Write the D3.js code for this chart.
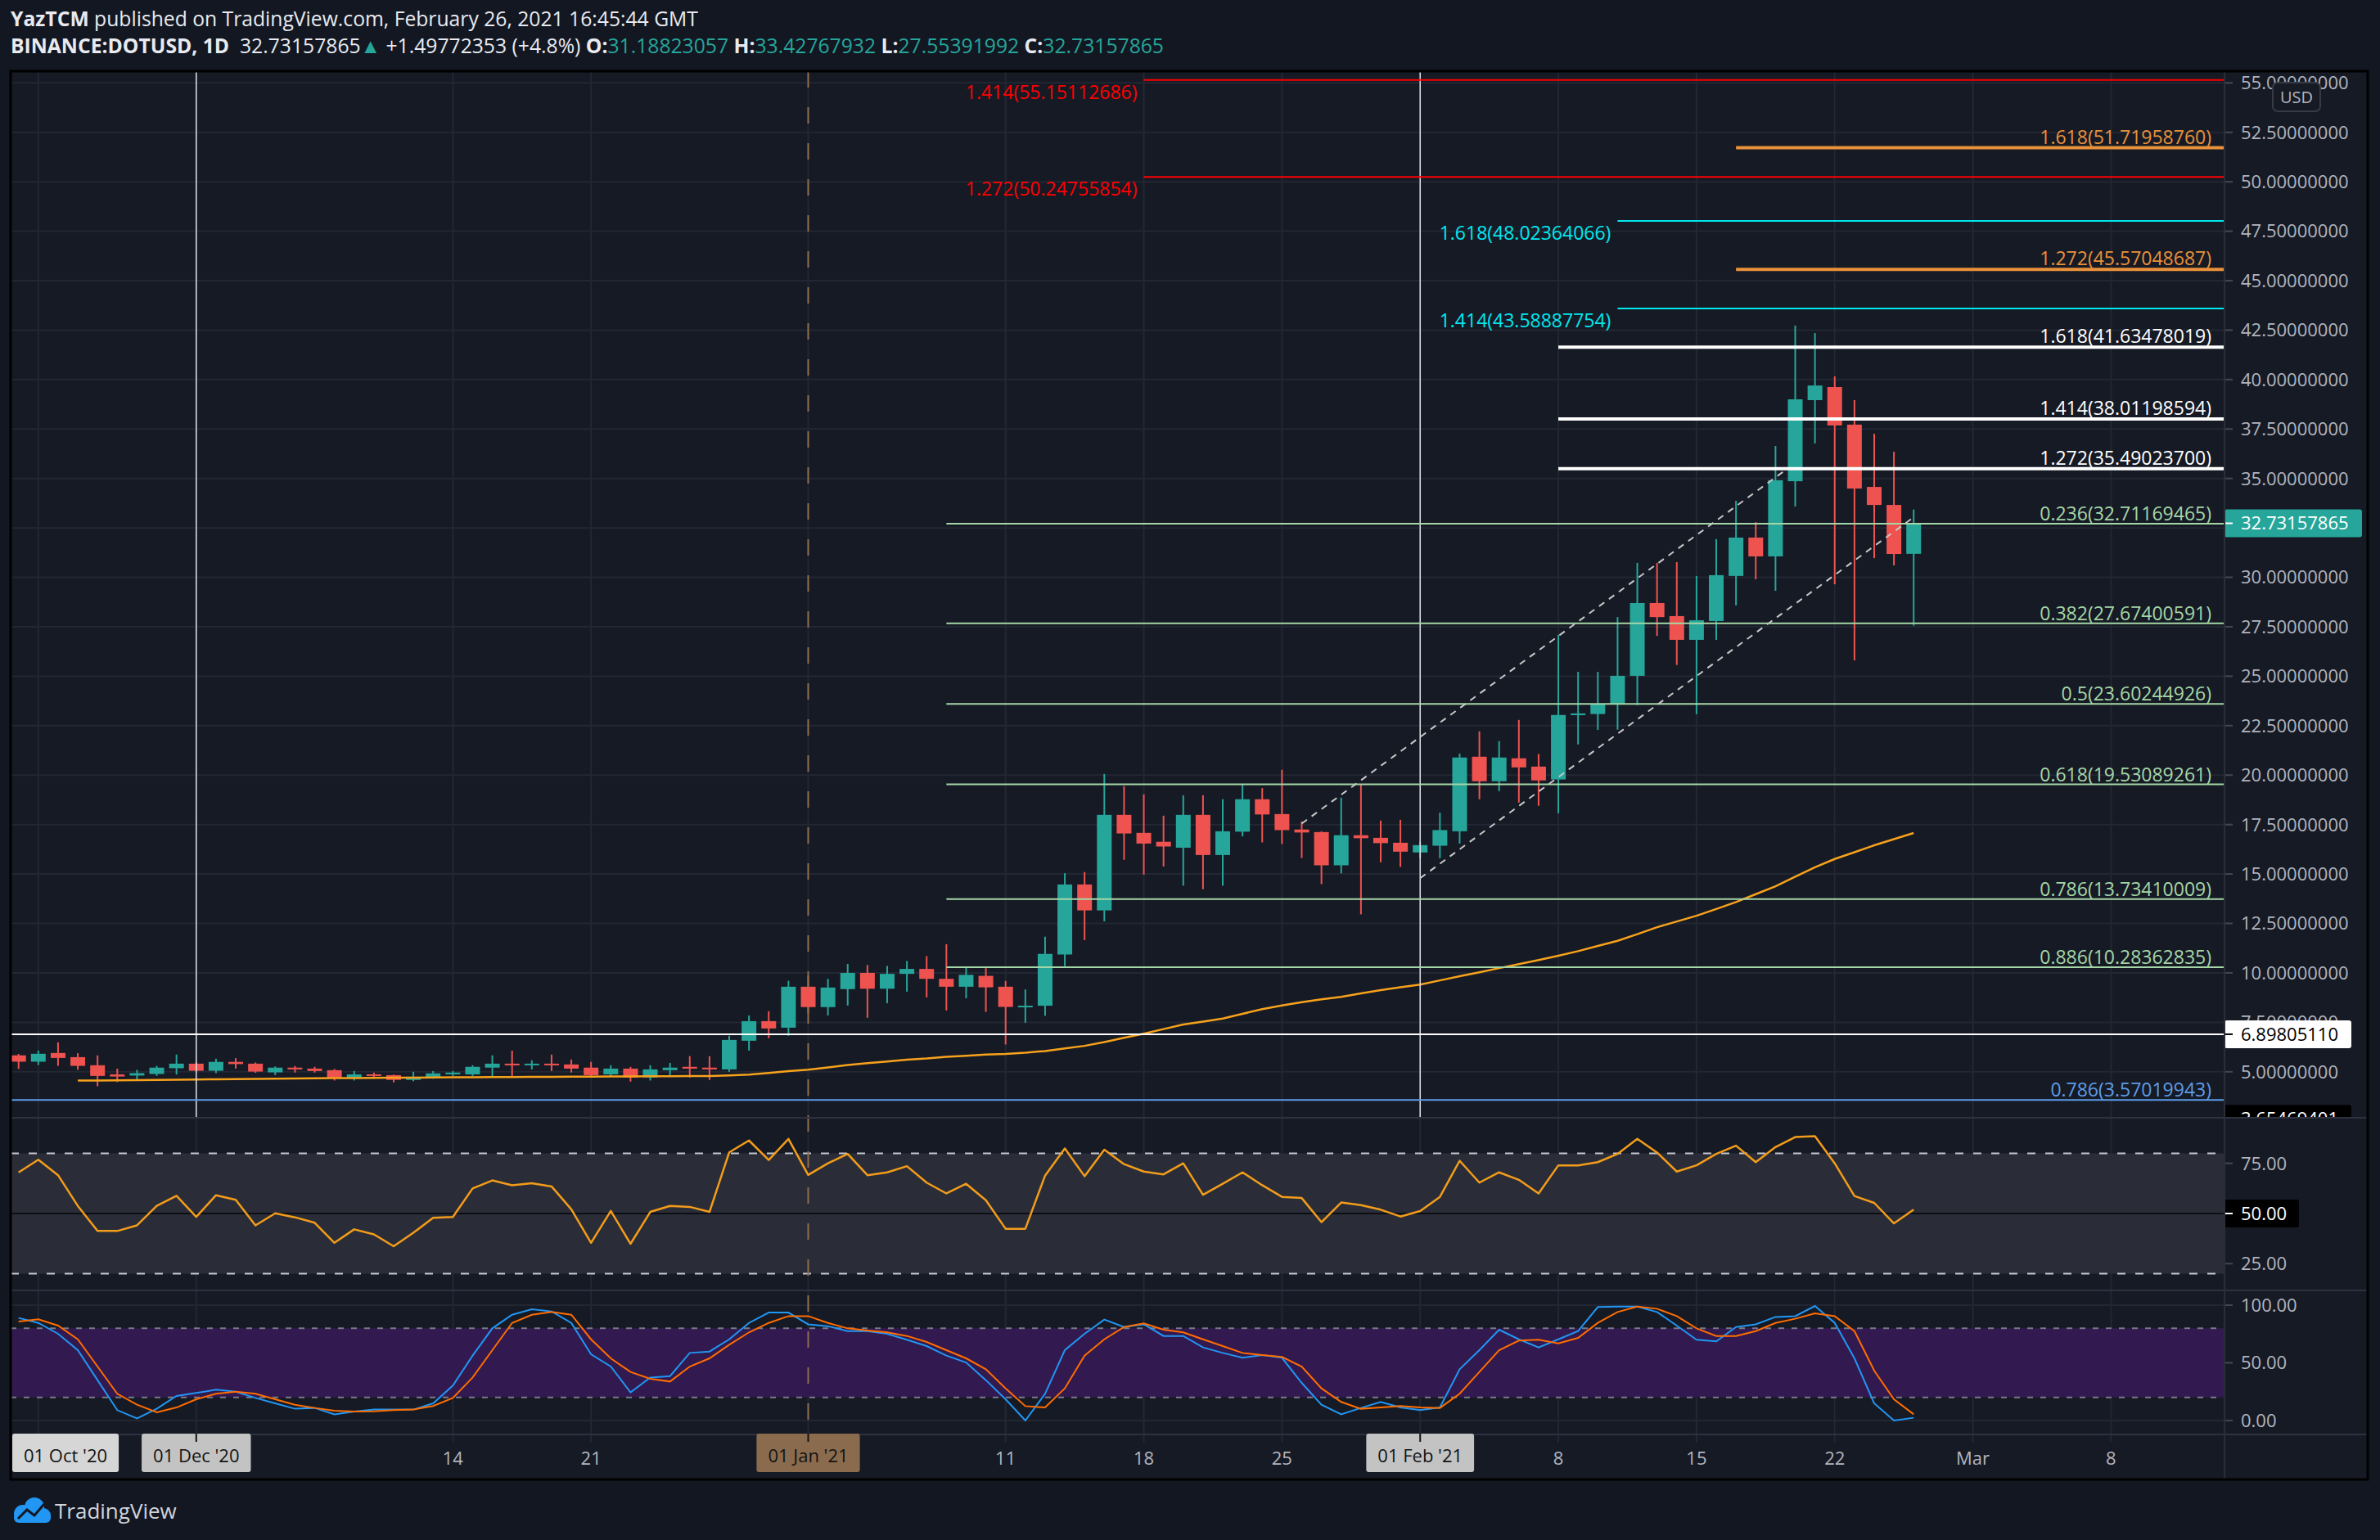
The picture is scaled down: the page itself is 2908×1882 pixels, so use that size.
<!DOCTYPE html>
<html>
<head>
<meta charset="utf-8">
<script src="https://d3js.org/d3.v7.min.js"></script>
<style>
  body { margin: 0; background: #131722; }
  svg text { font-family: "Open Sans", "Noto Sans", sans-serif; }
</style>
</head>
<body>
<script>
// ---------- data ----------
const firstDay = "2020-11-22";   // one candle per day from here
const opens  = [5.83,5.51,5.95,5.74,5.33,4.87,4.81,4.89,5.18,5.41,5.05,5.50,5.41,4.97,5.21,5.16,5.08,4.70,4.87,4.83,4.59,4.71,4.87,4.87,5.21,5.41,5.33,5.41,5.37,5.21,4.87,5.16,4.71,5.08,5.25,5.21,5.12,6.57,7.56,7.23,
                9.30,8.27,9.18,10.00,9.20,9.95,10.20,9.70,9.30,9.85,9.30,8.26,8.34,10.93,14.47,13.16,17.99,17.08,16.63,16.33,17.99,15.96,17.14,18.78,18.03,17.25,17.12,15.44,16.96,16.83,16.58,
                16.09,16.43,17.16,20.93,19.69,20.85,20.43,19.78,23.03,23.09,23.61,25.02,28.70,28.04,26.84,27.79,30.07,32.01,31.06,34.86,38.96,39.62,37.72,34.57,33.66,31.188];
const highs  = [5.90,6.07,6.49,5.94,5.83,5.16,5.10,5.30,5.87,5.50,5.66,5.69,5.47,5.27,5.29,5.25,5.14,5.04,4.96,4.86,5.00,5.04,5.04,5.33,5.83,6.07,5.58,5.87,5.62,5.50,5.33,5.25,5.33,5.45,5.79,5.79,6.82,7.85,8.06,9.60,
                9.85,9.70,10.45,10.40,10.35,10.60,10.85,11.45,10.30,10.24,9.59,9.16,11.83,15.04,15.10,20.06,19.44,19.03,17.95,18.98,18.98,18.78,19.52,19.34,20.27,17.66,17.16,18.86,19.52,17.70,17.74,
                16.63,18.10,21.09,22.21,21.72,22.79,21.07,27.09,25.22,25.22,27.99,30.73,30.73,30.77,30.07,31.93,33.87,32.79,36.64,42.73,42.35,40.16,38.96,37.26,36.35,33.428];
const lows   = [5.14,5.34,5.30,5.10,4.27,4.48,4.56,4.80,4.86,5.00,4.93,5.16,4.95,4.83,4.96,4.96,4.56,4.56,4.65,4.46,4.52,4.65,4.79,4.79,4.75,4.75,5.12,5.04,4.96,4.70,4.75,4.50,4.56,4.83,4.71,4.59,5.00,6.07,6.70,6.82,
                7.95,7.85,8.35,7.73,8.47,9.05,8.76,8.10,8.72,8.03,6.38,7.48,7.83,10.34,11.66,12.61,15.72,14.97,15.38,14.41,14.23,14.41,16.90,16.60,16.52,15.81,14.49,15.03,12.96,15.59,15.36,
                15.80,15.80,16.54,18.78,19.19,18.61,18.45,18.07,21.55,22.29,22.30,23.54,27.04,25.57,23.08,26.84,28.58,29.90,29.32,33.58,36.77,29.65,25.80,30.97,30.60,27.554];
const closes = [5.51,5.91,5.70,5.30,4.79,4.76,4.93,5.21,5.41,5.05,5.50,5.39,5.01,5.21,5.12,5.04,4.71,4.87,4.79,4.59,4.75,4.92,4.96,5.25,5.41,5.33,5.41,5.33,5.16,4.83,5.16,4.71,5.12,5.21,5.16,5.12,6.61,7.56,7.19,9.30,
                8.27,9.26,10.00,9.20,9.95,10.20,9.70,9.30,9.90,9.27,8.28,8.34,10.96,14.47,13.16,17.99,17.05,16.54,16.39,17.99,15.96,17.16,18.78,18.01,17.22,17.10,15.44,16.96,16.81,16.56,16.13,
                16.46,17.22,20.89,19.69,20.89,20.39,19.73,23.04,23.12,23.60,25.02,28.70,27.99,26.84,27.83,30.11,32.01,31.06,34.91,39.00,39.70,37.68,34.49,33.66,31.18,32.732];
const maValues = [null,null,null,4.56,4.56,4.57,4.58,4.59,4.60,4.61,4.62,4.63,4.64,4.65,4.66,4.67,4.68,4.68,4.69,4.70,4.70,4.71,4.72,4.72,4.73,4.73,4.74,4.74,4.75,4.75,4.76,4.76,4.77,4.77,4.78,4.79,4.82,4.86,4.94,5.03,
                5.11,5.22,5.34,5.44,5.52,5.61,5.67,5.76,5.81,5.87,5.90,5.96,6.05,6.18,6.31,6.50,6.72,6.93,7.16,7.39,7.54,7.69,7.93,8.17,8.35,8.52,8.66,8.79,8.96,9.13,9.27,
                9.41,9.62,9.83,10.03,10.24,10.44,10.65,10.87,11.10,11.36,11.62,11.96,12.31,12.60,12.89,13.23,13.58,13.98,14.38,14.86,15.34,15.76,16.10,16.45,16.76,17.07];
const rsiValues = [70.5,76.8,69.1,53.8,41.3,41.3,44.1,53.8,58.8,48.3,59.1,56.8,44.1,50.1,48.1,45.4,35.4,42.1,39.6,33.7,40.4,47.9,48.3,62.5,66.5,64.1,65.1,63.5,52.1,35.4,51.3,34.9,50.8,53.8,53.3,50.8,80.5,86.4,76.7,87.2,
                69.2,75.0,79.7,69.1,70.5,73.6,65.4,60.0,64.8,56.6,42.4,42.4,68.9,82.4,68.6,81.8,74.6,70.9,69.5,75.0,59.3,64.8,70.5,64.1,58.3,57.7,45.7,55.5,54.2,51.9,48.5,
                51.2,58.3,76.3,65.4,70.5,66.8,60.0,74.0,74.0,75.6,79.7,87.2,80.4,70.9,74.0,79.7,83.8,75.6,83.1,88.1,88.5,75.0,58.7,55.3,45.1,51.9];
const stochK = [88.9,84.6,75.2,61.0,35.0,9.0,1.9,10.2,21.3,23.9,26.7,25.0,19.6,14.9,10.2,10.9,5.4,7.8,9.5,9.5,9.5,14.9,30.3,56.3,79.9,91.7,96.5,94.6,84.6,57.4,46.8,24.4,37.3,38.5,58.6,59.8,70.4,84.6,93.6,93.6,
                83.4,81.8,77.5,77.5,75.2,70.0,64.5,56.3,50.3,35.0,18.4,0.0,23.2,61.0,75.2,87.5,81.1,83.4,73.3,73.3,63.4,58.6,54.4,56.7,54.4,32.6,13.7,5.4,10.9,16.1,11.3,
                9.0,11.3,44.4,61.0,78.7,70.4,63.4,70.4,77.5,98.4,98.8,98.8,94.1,82.3,70.0,68.6,81.1,83.4,89.8,90.5,99.3,84.6,53.9,14.9,0.0,2.4];
const stochD = [85.8,87.7,82.3,70.4,46.8,23.2,13.7,7.1,11.3,18.4,23.2,25.0,23.2,18.4,13.7,10.9,8.5,7.8,8.0,9.0,9.5,12.6,19.6,37.3,61.0,84.6,91.7,94.1,91.7,70.4,53.9,42.1,36.2,33.8,46.8,53.9,65.7,76.4,84.6,90.5,
                90.5,84.6,79.9,78.0,76.4,73.3,68.1,61.0,53.9,44.4,27.9,12.5,11.3,27.9,56.3,70.4,81.1,84.2,78.7,76.4,70.4,64.5,58.6,56.7,55.1,46.8,27.9,16.1,10.2,11.3,12.6,
                11.3,10.9,23.2,42.1,61.0,69.3,70.0,66.9,71.6,84.6,94.1,98.8,96.9,90.5,79.9,73.3,73.3,77.5,84.6,88.2,92.9,90.5,77.5,43.3,18.4,5.4];

// fibonacci drawings
const fibRatios = ["1.414","1.272","1.618","1.272","1.618","1.414","1.618","1.414","1.272","0.236","0.382","0.5","0.618","0.786","0.886","0.786"];
const fibPrices = [55.15112686,50.24755854,51.71958760,45.57048687,48.02364066,43.58887754,41.63478019,38.01198594,35.49023700,
                   32.71169465,27.67400591,23.60244926,19.53089261,13.73410009,10.28362835,3.57019943];
const fibSets   = ["red","red","orange","orange","cyan","cyan","white","white","white","green","green","green","green","green","green","blue"];
const fibStart  = {red:"2021-01-18", orange:"2021-02-17", cyan:"2021-02-11", white:"2021-02-08", green:"2021-01-08", blue:null};
const supportLevel = 6.89805110;
const lastPrice = 32.73157865;
const hiddenAxisValue = 3.65469401;
// parallel channel (date, price)
const channelUpper = [["2021-01-26", 17.55], ["2021-02-19T12:00Z", 35.42]];
const channelLower = [["2021-02-01", 14.79], ["2021-02-26T02:00Z", 33.10]];
// vertical drawings
const solidVLines = ["2020-12-01", "2021-02-01"];
const dashedVLine = "2021-01-01";

// axes
const priceTicks = [5,7.5,10,12.5,15,17.5,20,22.5,25,27.5,30,32.5,35,37.5,40,42.5,45,47.5,50,52.5,55];
const rsiTicks = [25,50,75];
const stochTicks = [0,50,100];
const timeTicks = ["2020-11-23","2020-12-01","2020-12-14","2020-12-21","2021-01-01","2021-01-11","2021-01-18","2021-01-25","2021-02-01","2021-02-08","2021-02-15","2021-02-22","2021-03-01","2021-03-08"];
// labels of ticks covered by the highlighted date boxes are left blank
const timeTickLabels = ["","","14","21","","11","18","25","","8","15","22","Mar","8"];
const boxDates = ["2020-10-01","2020-12-01","2021-01-01","2021-02-01"];
const boxTexts = ["01 Oct '20","01 Dec '20","01 Jan '21","01 Feb '21"];

// ---------- layout ----------
const W = 2908, H = 1882;
const L = 13, AX = 2718, R = 2893;
const pTop = 87, pBot = 1366, rBot = 1577, sBot = 1753, tBot = 1808;
const up = "#26a69a", down = "#ef5350";
const gridC = "#232733";

const setStyle = {
  red:    {color:"#ff0000", w:2, side:"left"},
  orange: {color:"#e8913a", w:4, side:"right"},
  cyan:   {color:"#00e8f0", w:2, side:"left"},
  white:  {color:"#ffffff", w:4, side:"right"},
  green:  {color:"#a5d6a7", w:2, side:"right"},
  blue:   {color:"#5d9ce8", w:2, side:"right"}
};
const boxFill = ["#d6d6d6","#c3c3c3","#8b6b4d","#c3c3c3"];

const dates = d3.utcDay.range(new Date(firstDay), d3.utcDay.offset(new Date(firstDay), opens.length));
const candles = dates.map((d, i) => ({d, o: opens[i], h: highs[i], l: lows[i], c: closes[i]}));

const x = d3.scaleUtc()
  .domain([new Date("2021-01-01"), new Date("2021-03-01")])
  .range([987.5, 987.5 + 59 * 24.12]);
const y = d3.scaleLinear().domain([5, 55]).range([1309.8, 101.3]);
const yR = d3.scaleLinear().domain([25, 75]).range([1544.3, 1421.7]);
const yS = d3.scaleLinear().domain([0, 100]).range([1736, 1595]);

const svg = d3.select("body").append("svg").attr("width", W).attr("height", H);
svg.append("rect").attr("width", W).attr("height", H).attr("fill", "#131722");
svg.append("rect").attr("x", L).attr("y", pTop).attr("width", R - L).attr("height", tBot - pTop).attr("fill", "#161a25");

const defs = svg.append("defs");
function clip(id, x0, y0, x1, y1) {
  defs.append("clipPath").attr("id", id).append("rect")
    .attr("x", x0).attr("y", y0).attr("width", x1 - x0).attr("height", y1 - y0);
}
clip("cP", L, pTop, AX, pBot);
clip("cR", L, pBot, AX, rBot);
clip("cS", L, rBot, AX, sBot);
clip("cAll", L, pTop, AX, sBot);
clip("cAx", AX, pTop, R, pBot);

// ---------- grid ----------
const grid = svg.append("g");
grid.selectAll("line.h").data(priceTicks).join("line")
  .attr("x1", L).attr("x2", AX + 10).attr("y1", d => y(d)).attr("y2", d => y(d))
  .attr("stroke", gridC).attr("stroke-width", 2);
grid.selectAll("line.r").data(rsiTicks).join("line")
  .attr("x1", L).attr("x2", AX + 10).attr("y1", d => yR(d)).attr("y2", d => yR(d))
  .attr("stroke", gridC).attr("stroke-width", 2);
grid.selectAll("line.s").data(stochTicks).join("line")
  .attr("x1", L).attr("x2", AX + 10).attr("y1", d => yS(d)).attr("y2", d => yS(d))
  .attr("stroke", gridC).attr("stroke-width", 2);
grid.append("g").selectAll("line").data(timeTicks).join("line")
  .attr("x1", d => x(new Date(d))).attr("x2", d => x(new Date(d)))
  .attr("y1", pTop).attr("y2", sBot + 10)
  .attr("stroke", gridC).attr("stroke-width", 2);

// ---------- RSI pane ----------
const gR = svg.append("g").attr("clip-path", "url(#cR)");
gR.append("rect").attr("x", L).attr("width", AX - L).attr("y", yR(80)).attr("height", yR(20) - yR(80)).attr("fill", "#2a2d38");
[80, 20].forEach(v => gR.append("line").attr("x1", L).attr("x2", AX).attr("y1", yR(v)).attr("y2", yR(v))
  .attr("stroke", "#c5c8cf").attr("stroke-width", 2).attr("stroke-dasharray", "10,12"));
gR.append("line").attr("x1", L).attr("x2", AX).attr("y1", yR(50)).attr("y2", yR(50)).attr("stroke", "#0c0e13").attr("stroke-width", 2);
gR.append("path").datum(rsiValues)
  .attr("d", d3.line().x((v, i) => x(dates[i])).y(v => yR(v)))
  .attr("fill", "none").attr("stroke", "#f39c1a").attr("stroke-width", 2.5).attr("stroke-linejoin", "round");

// ---------- Stoch RSI pane ----------
const gS = svg.append("g").attr("clip-path", "url(#cS)");
gS.append("rect").attr("x", L).attr("width", AX - L).attr("y", yS(80)).attr("height", yS(20) - yS(80)).attr("fill", "#32194f");
[80, 20].forEach(v => gS.append("line").attr("x1", L).attr("x2", AX).attr("y1", yS(v)).attr("y2", yS(v))
  .attr("stroke", "#787b86").attr("stroke-width", 2).attr("stroke-dasharray", "7,9"));
gS.append("path").datum(stochK)
  .attr("d", d3.line().x((v, i) => x(dates[i])).y(v => yS(v)))
  .attr("fill", "none").attr("stroke", "#2196f3").attr("stroke-width", 2);
gS.append("path").datum(stochD)
  .attr("d", d3.line().x((v, i) => x(dates[i])).y(v => yS(v)))
  .attr("fill", "none").attr("stroke", "#ff6d00").attr("stroke-width", 2);

// ---------- price pane ----------
const gP = svg.append("g").attr("clip-path", "url(#cP)");
gP.append("g").selectAll("line").data(candles).join("line")
  .attr("x1", d => x(d.d)).attr("x2", d => x(d.d))
  .attr("y1", d => y(d.h)).attr("y2", d => y(d.l))
  .attr("stroke", d => d.c >= d.o ? up : down).attr("stroke-width", 2);
gP.append("g").selectAll("rect").data(candles).join("rect")
  .attr("x", d => x(d.d) - 9).attr("width", 18)
  .attr("y", d => y(Math.max(d.o, d.c)))
  .attr("height", d => Math.max(2, Math.abs(y(d.o) - y(d.c))))
  .attr("fill", d => d.c >= d.o ? up : down);

gP.append("path").datum(maValues)
  .attr("d", d3.line().defined(v => v != null).x((v, i) => x(dates[i])).y(v => y(v)))
  .attr("fill", "none").attr("stroke", "#f7a21b").attr("stroke-width", 2.5);

// vertical drawings
gP.selectAll("line.v").data(solidVLines).join("line")
  .attr("x1", d => x(new Date(d))).attr("x2", d => x(new Date(d)))
  .attr("y1", pTop).attr("y2", pBot).attr("stroke", "#e0e3eb").attr("stroke-width", 1.5);
svg.append("line").attr("clip-path", "url(#cAll)")
  .attr("x1", x(new Date(dashedVLine))).attr("x2", x(new Date(dashedVLine)))
  .attr("y1", pTop).attr("y2", sBot)
  .attr("stroke", "#8d6d4e").attr("stroke-width", 2).attr("stroke-dasharray", "20,24");

// support line
gP.append("line").attr("x1", L).attr("x2", AX).attr("y1", y(supportLevel)).attr("y2", y(supportLevel))
  .attr("stroke", "#ffffff").attr("stroke-width", 2);

// fib levels
const fibs = fibPrices.map((p, i) => ({p, r: fibRatios[i], s: fibSets[i]}));
gP.append("g").selectAll("line").data(fibs).join("line")
  .attr("x1", d => fibStart[d.s] ? x(new Date(fibStart[d.s])) : L)
  .attr("x2", AX)
  .attr("y1", d => y(d.p)).attr("y2", d => y(d.p))
  .attr("stroke", d => setStyle[d.s].color).attr("stroke-width", d => setStyle[d.s].w);
gP.append("g").selectAll("text").data(fibs).join("text")
  .attr("x", d => setStyle[d.s].side === "left" ? x(new Date(fibStart[d.s])) - 8 : 2702)
  .attr("y", d => setStyle[d.s].side === "left" ? y(d.p) + 23 : y(d.p) - 3 - setStyle[d.s].w / 2)
  .attr("text-anchor", "end")
  .attr("font-size", 23)
  .attr("fill", d => setStyle[d.s].color)
  .text(d => `${d.r}(${d.p.toFixed(8)})`);

// channel
[channelUpper, channelLower].forEach(seg => {
  gP.append("line")
    .attr("x1", x(new Date(seg[0][0]))).attr("y1", y(seg[0][1]))
    .attr("x2", x(new Date(seg[1][0]))).attr("y2", y(seg[1][1]))
    .attr("stroke", "#c8c8c8").attr("stroke-width", 2).attr("stroke-dasharray", "8,7");
});

// ---------- price axis ----------
const gA = svg.append("g").attr("clip-path", "url(#cAx)");
gA.selectAll("line").data(priceTicks).join("line")
  .attr("x1", AX).attr("x2", AX + 10).attr("y1", d => y(d)).attr("y2", d => y(d))
  .attr("stroke", "#434651").attr("stroke-width", 2);
gA.selectAll("text").data(priceTicks).join("text")
  .attr("x", AX + 20).attr("y", d => y(d)).attr("dy", "0.36em")
  .attr("font-size", 22).attr("fill", "#b2b5be")
  .text(d => d.toFixed(8));

function axisTag(g, cy, txt, bg, fg, w) {
  g.append("rect").attr("x", AX).attr("y", cy - 17).attr("width", w).attr("height", 34).attr("rx", 3).attr("fill", bg);
  g.append("line").attr("x1", AX).attr("x2", AX + 10).attr("y1", cy).attr("y2", cy).attr("stroke", fg).attr("stroke-width", 2);
  g.append("text").attr("x", AX + 20).attr("y", cy).attr("dy", "0.36em").attr("font-size", 22).attr("fill", fg).text(txt);
}
axisTag(gA, y(lastPrice), lastPrice.toFixed(8), up, "#ffffff", 168);
axisTag(gA, y(supportLevel), supportLevel.toFixed(8), "#ffffff", "#000000", 155);
axisTag(gA, y(hiddenAxisValue) + 25, hiddenAxisValue.toFixed(8), "#000000", "#ffffff", 155);

// USD badge
gA.append("rect").attr("x", 2777).attr("y", 101).attr("width", 58).attr("height", 35).attr("rx", 6)
  .attr("fill", "#161a25").attr("stroke", "#363a45").attr("stroke-width", 2);
gA.append("text").attr("x", 2806).attr("y", 118.5).attr("dy", "0.36em").attr("text-anchor", "middle")
  .attr("font-size", 20).attr("fill", "#b2b5be").text("USD");

// RSI & stoch axes
const gRA = svg.append("g");
gRA.selectAll("line.t").data(rsiTicks).join("line")
  .attr("x1", AX).attr("x2", AX + 10).attr("y1", d => yR(d)).attr("y2", d => yR(d))
  .attr("stroke", "#434651").attr("stroke-width", 2);
gRA.selectAll("text.t").data(rsiTicks.filter(d => d !== 50)).join("text")
  .attr("x", AX + 20).attr("y", d => yR(d)).attr("dy", "0.36em")
  .attr("font-size", 22).attr("fill", "#b2b5be").text(d => d.toFixed(2));
gRA.append("rect").attr("x", AX).attr("y", yR(50) - 17).attr("width", 91).attr("height", 34).attr("rx", 3).attr("fill", "#000");
gRA.append("line").attr("x1", AX).attr("x2", AX + 10).attr("y1", yR(50)).attr("y2", yR(50)).attr("stroke", "#fff").attr("stroke-width", 2);
gRA.append("text").attr("x", AX + 20).attr("y", yR(50)).attr("dy", "0.36em").attr("font-size", 22).attr("fill", "#fff").text("50.00");

const gSA = svg.append("g");
gSA.selectAll("line").data(stochTicks).join("line")
  .attr("x1", AX).attr("x2", AX + 10).attr("y1", d => yS(d)).attr("y2", d => yS(d))
  .attr("stroke", "#434651").attr("stroke-width", 2);
gSA.selectAll("text").data(stochTicks).join("text")
  .attr("x", AX + 20).attr("y", d => yS(d)).attr("dy", "0.36em")
  .attr("font-size", 22).attr("fill", "#b2b5be").text(d => d.toFixed(2));

// pane separators and borders
[pBot, rBot, sBot].forEach(v => svg.append("line").attr("x1", L).attr("x2", R).attr("y1", v).attr("y2", v)
  .attr("stroke", "#2e3240").attr("stroke-width", 2));
svg.append("line").attr("x1", AX).attr("x2", AX).attr("y1", pTop).attr("y2", tBot)
  .attr("stroke", "#2a2e39").attr("stroke-width", 2);

// ---------- time axis ----------
const gT = svg.append("g");
gT.selectAll("text").data(timeTicks).join("text")
  .attr("x", d => x(new Date(d))).attr("y", 1782).attr("dy", "0.36em")
  .attr("text-anchor", "middle").attr("font-size", 22).attr("fill", "#b2b5be")
  .text((d, i) => timeTickLabels[i]);

boxTexts.forEach((t, i) => {
  const g = gT.append("g");
  const txt = g.append("text").attr("y", 1779).attr("dy", "0.36em").attr("text-anchor", "middle")
    .attr("font-size", 22).attr("fill", "#131313").text(t);
  const w = txt.node().getComputedTextLength() + 28;
  const cx = Math.max(x(new Date(boxDates[i])), L + 2 + w / 2);
  txt.attr("x", cx);
  g.insert("rect", "text").attr("x", cx - w / 2).attr("y", 1752).attr("width", w).attr("height", 47)
    .attr("rx", 3).attr("fill", boxFill[i]);
  if (i > 0) g.insert("line", "text").attr("x1", cx).attr("x2", cx).attr("y1", 1752).attr("y2", 1762)
    .attr("stroke", "#131313").attr("stroke-width", 2);
});

// chart border
svg.append("rect").attr("x", L).attr("y", pTop).attr("width", R - L).attr("height", tBot - pTop)
  .attr("fill", "none").attr("stroke", "#000").attr("stroke-width", 3);

// ---------- header ----------
const h1 = svg.append("text").attr("x", 13).attr("y", 32).attr("font-size", 24.7).attr("fill", "#e8eaef");
h1.append("tspan").attr("font-weight", "bold").text("YazTCM");
h1.append("tspan").text(" published on TradingView.com, February 26, 2021 16:45:44 GMT");

const h2 = svg.append("text").attr("x", 13).attr("y", 65).attr("font-size", 24.7).attr("fill", "#e8eaef");
const parts = [
  ["BINANCE:DOTUSD, 1D", "bold", "#e8eaef"], ["  32.73157865", "normal", "#e8eaef"], ["\u25B2", "normal", up],
  [" +1.49772353 (+4.8%) ", "normal", "#e8eaef"],
  ["O:", "bold", "#e8eaef"], ["31.18823057 ", "normal", up],
  ["H:", "bold", "#e8eaef"], ["33.42767932 ", "normal", up],
  ["L:", "bold", "#e8eaef"], ["27.55391992 ", "normal", up],
  ["C:", "bold", "#e8eaef"], ["32.73157865", "normal", up]
];
parts.forEach(p => h2.append("tspan").attr("font-weight", p[1]).attr("fill", p[2]).text(p[0]));
h2.attr("xml:space", "preserve").style("white-space", "pre");

// ---------- TradingView logo ----------
const logo = svg.append("g").attr("fill", "#2196f3");
logo.append("circle").attr("cx", 28).attr("cy", 1850).attr("r", 11);
logo.append("circle").attr("cx", 42).attr("cy", 1842).attr("r", 12);
logo.append("circle").attr("cx", 53).attr("cy", 1852).attr("r", 9);
logo.append("rect").attr("x", 17).attr("y", 1848).attr("width", 45).attr("height", 13).attr("rx", 6);
svg.append("path").attr("d", "M22,1856 L33,1845 L42,1852 L54,1838").attr("fill", "none")
  .attr("stroke", "#131722").attr("stroke-width", 3);
svg.append("text").attr("x", 67).attr("y", 1856).attr("font-size", 26).attr("fill", "#d1d4dc").text("TradingView");
</script>
</body>
</html>
